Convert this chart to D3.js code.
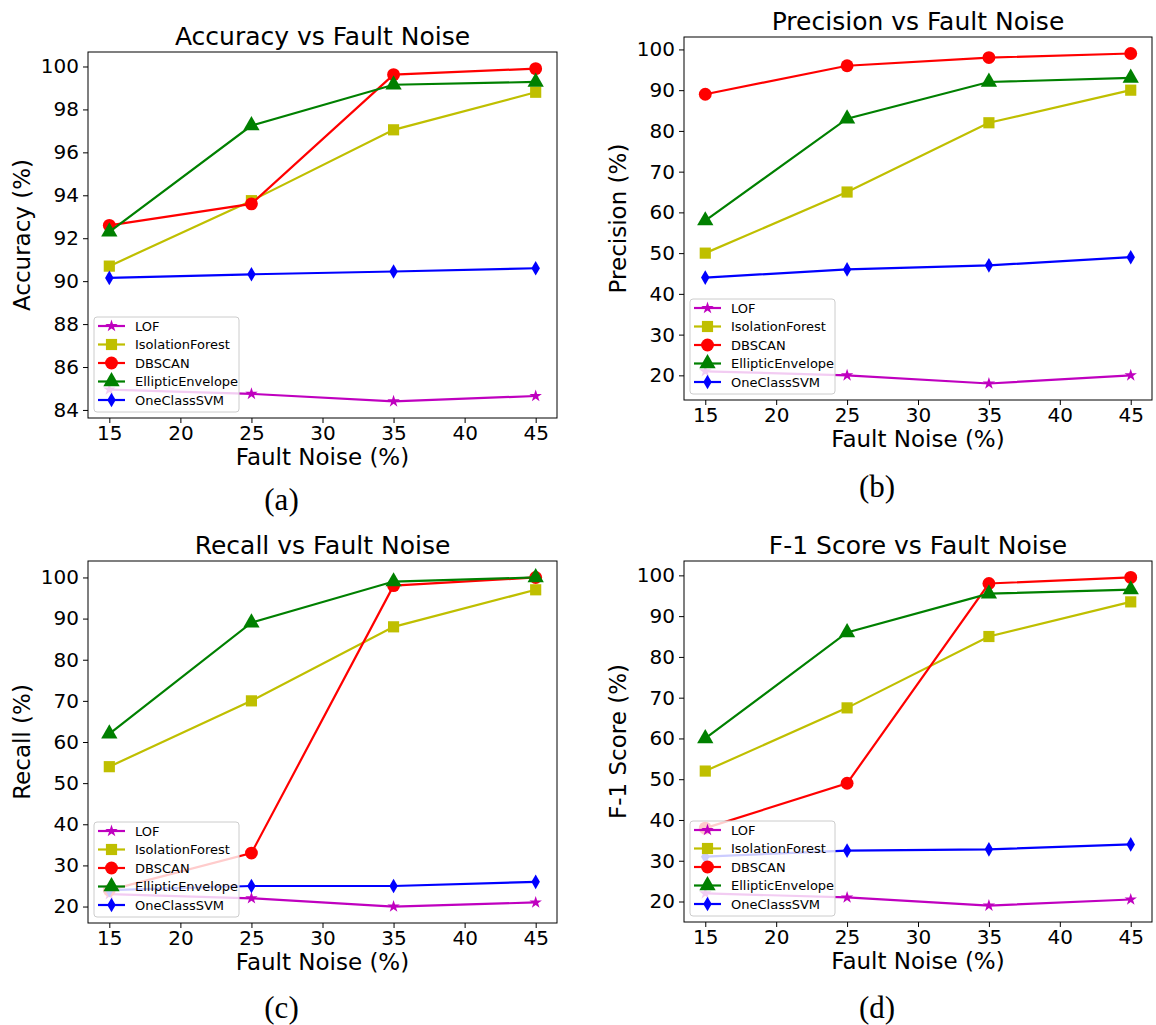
<!DOCTYPE html>
<html>
<head>
<meta charset="utf-8">
<script src="https://cdn.jsdelivr.net/npm/d3@7"></script>
<style>
  body { margin: 0; background: #fff; }
  text { font-family: 'DejaVu Sans', sans-serif; fill: #000; }
</style>
</head>
<body>
<script>
const noise = [15, 25, 35, 45];
const methods = ['LOF', 'IsolationForest', 'DBSCAN', 'EllipticEnvelope', 'OneClassSVM'];

// one row per method, same order as methods
const accuracy = [
  [84.95, 84.75, 84.4, 84.65],
  [90.7, 93.75, 97.05, 98.8],
  [92.6, 93.6, 99.62, 99.9],
  [92.3, 97.25, 99.15, 99.28],
  [90.15, 90.32, 90.45, 90.6]
];
const precision = [
  [21, 20, 18, 20],
  [50, 65, 82, 90],
  [89, 96, 98, 99],
  [58, 83, 92, 93],
  [44, 46, 47, 49]
];
const recall = [
  [23, 22, 20, 21],
  [54, 70, 88, 97],
  [24, 33, 98, 100],
  [62, 89, 99, 100],
  [24, 25, 25, 26]
];
const f1 = [
  [22, 21, 19, 20.5],
  [52, 67.5, 85, 93.5],
  [38, 49, 98, 99.5],
  [60, 86, 95.5, 96.5],
  [31, 32.5, 32.8, 34]
];
const xTicks = [15, 20, 25, 30, 35, 40, 45];
const accTicks = [84, 86, 88, 90, 92, 94, 96, 98, 100];
const pctTicks = [20, 30, 40, 50, 60, 70, 80, 90, 100];

const colors = ['#bf00bf', '#bfbf00', '#ff0000', '#008000', '#0000ff'];
const symbols = [d3.symbolStar, d3.symbolSquare, d3.symbolCircle, d3.symbolTriangle, d3.symbolDiamond];
const symSizes = [48, 125, 130, 115, 62];

const svg = d3.select('body').append('svg')
  .attr('width', 1156)
  .attr('height', 1025);

function drawPanel(p) {
  const g = svg.append('g');
  const all = p.data.flat();
  const [lo, hi] = d3.extent(all);
  const pad = (hi - lo) * 0.05;

  const x = d3.scaleLinear().domain([13.5, 46.5]).range([p.left, p.right]);
  const y = d3.scaleLinear().domain([lo - pad, hi + pad]).range([p.bottom, p.top]);

  g.append('g')
    .attr('transform', `translate(0, ${p.bottom})`)
    .call(d3.axisBottom(x).tickValues(xTicks).tickSize(5).tickPadding(3))
    .call(a => a.selectAll('text').attr('font-size', 20))
    .call(a => a.select('.domain').remove());

  g.append('g')
    .attr('transform', `translate(${p.left}, 0)`)
    .call(d3.axisLeft(y).tickValues(p.yTicks).tickSize(5).tickPadding(4))
    .call(a => a.selectAll('text').attr('font-size', 20))
    .call(a => a.select('.domain').remove());

  g.append('rect')
    .attr('x', p.left).attr('y', p.top)
    .attr('width', p.right - p.left).attr('height', p.bottom - p.top)
    .attr('fill', 'none').attr('stroke', '#000').attr('stroke-width', 1);

  const line = d3.line().x((d, i) => x(noise[i])).y(d => y(d));

  p.data.forEach((vals, k) => {
    g.append('path')
      .attr('d', line(vals))
      .attr('fill', 'none')
      .attr('stroke', colors[k])
      .attr('stroke-width', 2.2);
    g.selectAll(null)
      .data(vals)
      .enter()
      .append('path')
      .attr('d', d3.symbol().type(symbols[k]).size(symSizes[k]))
      .attr('transform', (d, i) => `translate(${x(noise[i])}, ${y(d)})`)
      .attr('fill', colors[k]);
  });

  // legend
  const lx = p.left + 6;
  const lh = 95;
  const ly = p.bottom - 6 - lh;
  const leg = g.append('g');
  leg.append('rect')
    .attr('x', lx).attr('y', ly)
    .attr('width', 145).attr('height', lh)
    .attr('rx', 3)
    .attr('fill', '#fff').attr('fill-opacity', 0.8)
    .attr('stroke', '#cccccc').attr('stroke-width', 1);
  methods.forEach((m, k) => {
    const ry = ly + 9 + k * 18.5;
    leg.append('line')
      .attr('x1', lx + 4).attr('x2', lx + 31)
      .attr('y1', ry).attr('y2', ry)
      .attr('stroke', colors[k]).attr('stroke-width', 2.2);
    leg.append('path')
      .attr('d', d3.symbol().type(symbols[k]).size(symSizes[k]))
      .attr('transform', `translate(${lx + 17.5}, ${ry})`)
      .attr('fill', colors[k]);
    leg.append('text')
      .attr('x', lx + 41).attr('y', ry)
      .attr('dy', '0.35em')
      .attr('font-size', 13)
      .text(m);
  });

  const cx = (p.left + p.right) / 2;
  g.append('text')
    .attr('x', cx).attr('y', p.top - 7)
    .attr('text-anchor', 'middle')
    .attr('font-size', 25)
    .text(p.title);
  g.append('text')
    .attr('x', cx).attr('y', p.bottom + 47)
    .attr('text-anchor', 'middle')
    .attr('font-size', 23)
    .text('Fault Noise (%)');
  g.append('text')
    .attr('transform', `translate(${p.left - 58}, ${(p.top + p.bottom) / 2}) rotate(-90)`)
    .attr('text-anchor', 'middle')
    .attr('font-size', 23)
    .text(p.ylabel);
  g.append('text')
    .attr('x', cx - 41).attr('y', p.captionY)
    .attr('text-anchor', 'middle')
    .attr('font-size', 31)
    .style('font-family', "'Liberation Serif', serif")
    .text(p.caption);
}

drawPanel({ data: accuracy, yTicks: accTicks, left: 88, right: 557, top: 52, bottom: 418,
  title: 'Accuracy vs Fault Noise', ylabel: 'Accuracy (%)', caption: '(a)', captionY: 510 });
drawPanel({ data: precision, yTicks: pctTicks, left: 684, right: 1152, top: 37, bottom: 400,
  title: 'Precision vs Fault Noise', ylabel: 'Precision (%)', caption: '(b)', captionY: 497 });
drawPanel({ data: recall, yTicks: pctTicks, left: 88, right: 557, top: 561, bottom: 923,
  title: 'Recall vs Fault Noise', ylabel: 'Recall (%)', caption: '(c)', captionY: 1018 });
drawPanel({ data: f1, yTicks: pctTicks, left: 684, right: 1152, top: 561, bottom: 922,
  title: 'F-1 Score vs Fault Noise', ylabel: 'F-1 Score (%)', caption: '(d)', captionY: 1018 });
</script>
</body>
</html>
